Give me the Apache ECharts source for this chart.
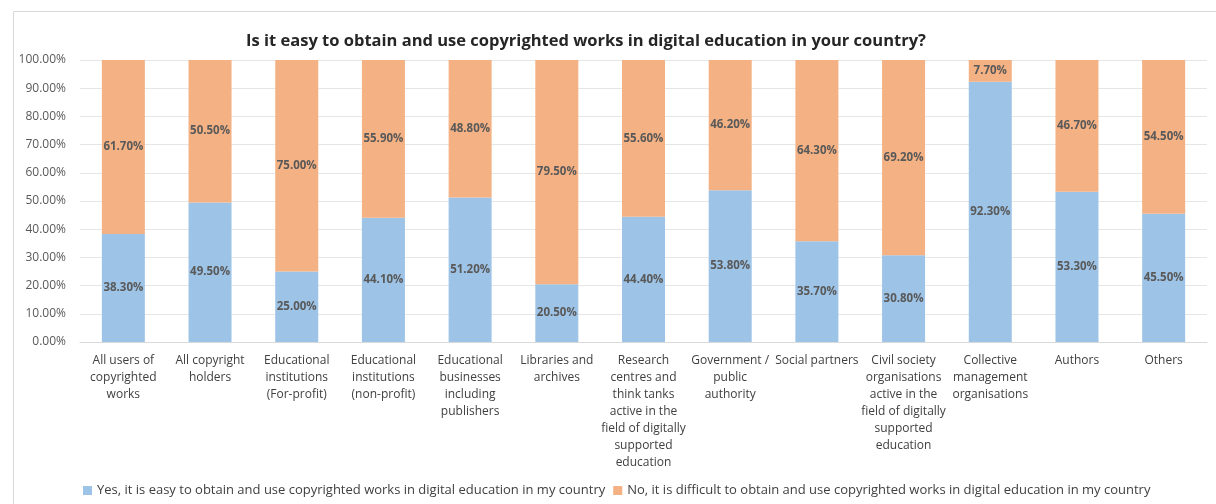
<!DOCTYPE html>
<html><head><meta charset="utf-8">
<script src="https://cdn.jsdelivr.net/npm/echarts@6/dist/echarts.min.js"></script>
<style>html,body{margin:0;padding:0;background:#fff}#c{width:1216px;height:504px}</style>
</head><body><div id="c"></div>
<script>
const categories = [
  "All users of\ncopyrighted\nworks",
  "All copyright\nholders",
  "Educational\ninstitutions\n(For-profit)",
  "Educational\ninstitutions\n(non-profit)",
  "Educational\nbusinesses\nincluding\npublishers",
  "Libraries and\narchives",
  "Research\ncentres and\nthink tanks\nactive in the\nfield of digitally\nsupported\neducation",
  "Government /\npublic\nauthority",
  "Social partners",
  "Civil society\norganisations\nactive in the\nfield of digitally\nsupported\neducation",
  "Collective\nmanagement\norganisations",
  "Authors",
  "Others"
];
const yesValues = [38.3, 49.5, 25.0, 44.1, 51.2, 20.5, 44.4, 53.8, 35.7, 30.8, 92.3, 53.3, 45.5];
const noValues  = [61.7, 50.5, 75.0, 55.9, 48.8, 79.5, 55.6, 46.2, 64.3, 69.2, 7.7, 46.7, 54.5];
const seriesNames = [
  "Yes, it is easy to obtain and use copyrighted works in digital education in my country",
  "No, it is difficult to obtain and use copyrighted works in digital education in my country"
];
const titleText = "Is it easy to obtain and use copyrighted works in digital education in your country?";

const FONT = "'Open Sans', 'Noto Sans', sans-serif";
const chart = echarts.init(document.getElementById('c'), null, {renderer: 'canvas'});
const labelCfg = {
  show: true, position: 'inside', fontFamily: FONT, fontWeight: 'bold', fontSize: 11.5, color: '#595959',
  formatter: p => p.value.toFixed(2) + '%'
};
chart.setOption({
  animation: false,
  textStyle: {fontFamily: FONT},
  graphic: [{
    type: 'rect', left: 11, top: 9, shape: {width: 1230, height: 520},
    style: {fill: 'none', stroke: '#d9d9d9', lineWidth: 1}, z: -1, silent: true
  }],
  title: {
    text: titleText, left: 581, textAlign: 'center', top: 28,
    textStyle: {fontFamily: FONT, fontWeight: 'bold', fontSize: 16.5, color: '#262626'}
  },
  legend: {
    left: 78, top: 479, itemWidth: 9, itemHeight: 9, itemGap: 8, icon: 'rect',
    textStyle: {fontFamily: FONT, fontSize: 13, color: '#404040'},
    data: seriesNames
  },
  grid: {left: 80, right: 9, top: 60, height: 282, containLabel: false},
  xAxis: {
    type: 'category', data: categories,
    axisLine: {lineStyle: {color: '#d9d9d9'}}, axisTick: {show: false},
    axisLabel: {interval: 0, fontFamily: FONT, fontSize: 12, color: '#404040', lineHeight: 17, margin: 10}
  },
  yAxis: {
    type: 'value', min: 0, max: 100, interval: 10,
    axisLine: {show: false}, axisTick: {show: false},
    splitLine: {lineStyle: {color: '#e6e6e6'}},
    axisLabel: {formatter: v => v.toFixed(2) + '%', fontFamily: FONT, fontSize: 12, color: '#595959', margin: 14}
  },
  series: [
    {name: seriesNames[0], type: 'bar', stack: 't', data: yesValues, barWidth: 43,
     itemStyle: {color: '#9dc3e6'}, label: labelCfg},
    {name: seriesNames[1], type: 'bar', stack: 't', data: noValues, barWidth: 43,
     itemStyle: {color: '#f4b183'}, label: labelCfg}
  ]
});
</script></body></html>
